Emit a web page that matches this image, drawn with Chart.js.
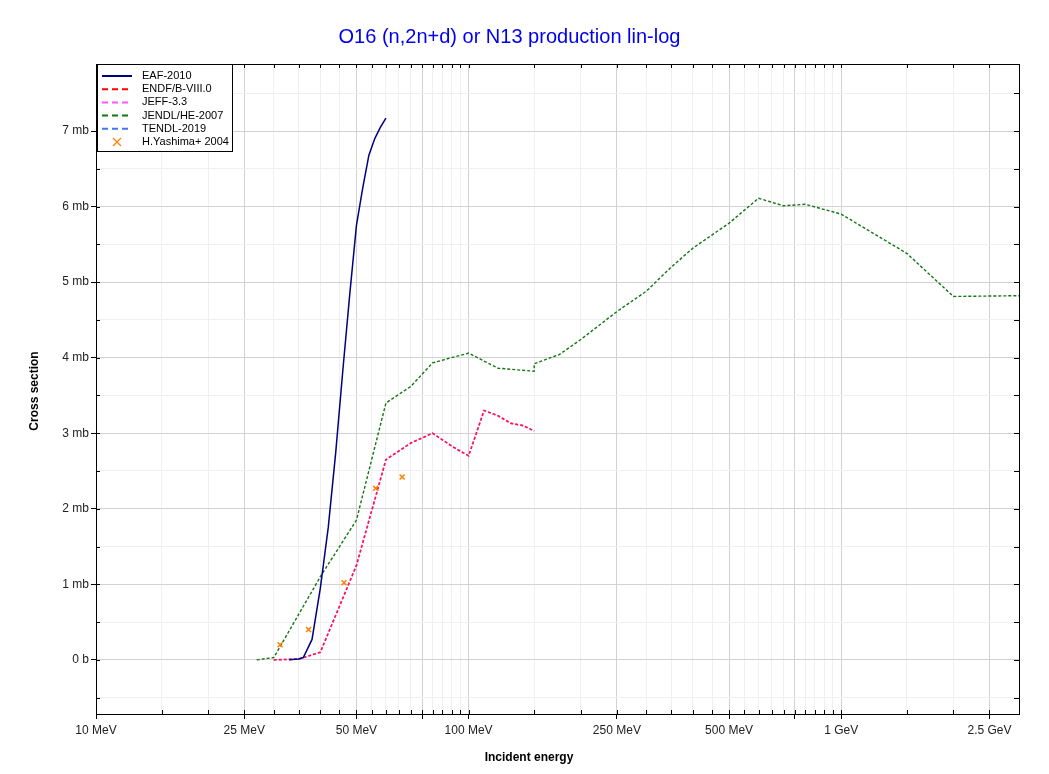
<!DOCTYPE html>
<html lang="en">
<head>
  <meta charset="UTF-8">
  <title>O16 (n,2n+d) or N13 production lin-log</title>
  <script src="https://cdn.jsdelivr.net/npm/chart.js"></script>
  <style>
    html, body { margin: 0; padding: 0; background: #fff; overflow: hidden; }
    canvas { display: block; }
  </style>
</head>
<body>
  <canvas id="chart" width="1049" height="774"></canvas>

  <script>
    // energies in MeV, cross sections in mb
    const eafE   = [33, 35, 36, 38, 40, 42, 44, 46, 48, 50, 52, 54, 56, 58, 60];
    const eafXs  = [0, 0.01, 0.03, 0.27, 0.95, 1.75, 2.75, 3.85, 4.85, 5.75, 6.25, 6.68, 6.9, 7.05, 7.17];

    const endfE  = [30, 35, 40, 50, 60, 70, 80, 90, 100, 110, 120, 130, 140, 150];
    const endfXs = [0, 0.01, 0.1, 1.25, 2.65, 2.87, 3.0, 2.83, 2.7, 3.3, 3.23, 3.13, 3.1, 3.03];

    const jeffE  = [30, 35, 40, 50, 60, 70, 80, 90, 100, 110, 120, 130, 140, 150];
    const jeffXs = [0, 0.01, 0.1, 1.25, 2.65, 2.87, 3.0, 2.83, 2.7, 3.3, 3.23, 3.13, 3.1, 3.03];

    const jendlE  = [27, 30, 40, 50, 60, 70, 80, 90, 100, 120, 150, 150, 175, 200, 250, 300, 350, 400, 500, 600, 700, 800, 1000, 1500, 2000, 3000];
    const jendlXs = [0, 0.03, 1.1, 1.85, 3.4, 3.62, 3.93, 4.0, 4.06, 3.86, 3.82, 3.92, 4.04, 4.24, 4.61, 4.88, 5.2, 5.45, 5.78, 6.11, 6.01, 6.03, 5.9, 5.38, 4.81, 4.82];

    const tendlE  = [];
    const tendlXs = [];

    const yashE  = [31.2, 37.2, 46.3, 56.3, 66.3];
    const yashXs = [0.2, 0.4, 1.02, 2.27, 2.42];

    // axis ticks
    const xTicks = [10, 15, 20, 25, 30, 35, 40, 45, 50, 55, 60, 65, 70, 75, 80, 85, 90, 95, 100,
                    150, 200, 250, 300, 350, 400, 450, 500, 550, 600, 650, 700, 750, 800, 850, 900, 950, 1000,
                    1500, 2000, 2500, 3000];
    const xMajor = [10, 25, 50, 75, 100, 250, 500, 750, 1000, 2500];
    const xLabelVals = [10, 25, 50, 100, 250, 500, 1000, 2500];
    const xLabels = ['10 MeV', '25 MeV', '50 MeV', '100 MeV', '250 MeV', '500 MeV', '1 GeV', '2.5 GeV'];

    const yTicks = [-0.5, 0, 0.5, 1, 1.5, 2, 2.5, 3, 3.5, 4, 4.5, 5, 5.5, 6, 6.5, 7, 7.5];
    const yLabelVals = [0, 1, 2, 3, 4, 5, 6, 7];
    const yLabels = ['0 b', '1 mb', '2 mb', '3 mb', '4 mb', '5 mb', '6 mb', '7 mb'];

    const FONT = '"Liberation Sans", Arial, sans-serif';
    const pts = (xs, ys) => xs.map((e, i) => ({ x: e, y: ys[i] }));

    // legend entries (drawn by hand, boxed like the original)
    const legendItems = [
      { label: 'EAF-2010',        color: '#000080', dash: [] },
      { label: 'ENDF/B-VIII.0',   color: '#ff0000', dash: [6, 4] },
      { label: 'JEFF-3.3',        color: '#ff55ff', dash: [6, 4] },
      { label: 'JENDL/HE-2007',   color: '#117711', dash: [6, 4] },
      { label: 'TENDL-2019',      color: '#4477ee', dash: [6, 4] },
      { label: 'H.Yashima+ 2004', color: '#ff8000', marker: true }
    ];

    const framePlugin = {
      id: 'frame',
      afterDraw(chart) {
        const { ctx, chartArea: a, scales: { x, y } } = chart;
        ctx.save();
        ctx.strokeStyle = '#000';
        ctx.lineWidth = 1;
        ctx.setLineDash([]);
        ctx.strokeRect(a.left + 0.5, a.top + 0.5, a.right - a.left, a.bottom - a.top);

        // inner ticks on all four sides
        ctx.beginPath();
        xTicks.forEach(v => {
          const px = Math.round(x.getPixelForValue(v)) + 0.5;
          ctx.moveTo(px, a.bottom); ctx.lineTo(px, a.bottom - 4);
          ctx.moveTo(px, a.top); ctx.lineTo(px, a.top + 4);
        });
        yTicks.forEach(v => {
          const py = Math.round(y.getPixelForValue(v)) + 0.5;
          ctx.moveTo(a.left, py); ctx.lineTo(a.left + 4, py);
          ctx.moveTo(a.right, py); ctx.lineTo(a.right - 5, py);
        });
        ctx.stroke();

        // legend box
        const lx = a.left + 1, ly = a.top, lw = 135, lh = 87;
        ctx.fillStyle = '#fff';
        ctx.fillRect(lx, ly, lw, lh);
        ctx.strokeRect(lx + 0.5, ly + 0.5, lw, lh);
        ctx.font = '11px ' + FONT;
        ctx.textBaseline = 'middle';
        ctx.textAlign = 'left';
        legendItems.forEach((it, i) => {
          const cy = ly + 12 + i * 13.2;
          ctx.strokeStyle = it.color;
          if (it.marker) {
            const cx = lx + 20, r = 4;
            ctx.lineWidth = 1.2;
            ctx.setLineDash([]);
            ctx.beginPath();
            ctx.moveTo(cx - r, cy - r); ctx.lineTo(cx + r, cy + r);
            ctx.moveTo(cx - r, cy + r); ctx.lineTo(cx + r, cy - r);
            ctx.stroke();
          } else {
            ctx.lineWidth = 2;
            ctx.setLineDash(it.dash);
            ctx.beginPath();
            ctx.moveTo(lx + 5, cy); ctx.lineTo(lx + 35, cy);
            ctx.stroke();
          }
          ctx.fillStyle = '#000';
          ctx.fillText(it.label, lx + 45, cy);
        });

        // axis titles
        ctx.fillStyle = '#000';
        ctx.font = 'bold 12px ' + FONT;
        ctx.textAlign = 'center';
        ctx.fillText('Incident energy', 529, 758);
        ctx.translate(35, 391);
        ctx.rotate(-Math.PI / 2);
        ctx.fillText('Cross section', 0, 0);
        ctx.restore();
      }
    };

    new Chart(document.getElementById('chart'), {
      type: 'line',
      data: {
        datasets: [
          {
            label: 'EAF-2010', data: pts(eafE, eafXs),
            borderColor: '#000080', borderWidth: 1.5, order: 1
          },
          {
            label: 'ENDF/B-VIII.0', data: pts(endfE, endfXs),
            borderColor: 'rgba(255,0,0,0.6)', borderWidth: 1.6, borderDash: [3, 2], order: 2
          },
          {
            label: 'JEFF-3.3', data: pts(jeffE, jeffXs),
            borderColor: '#ff33cc', borderWidth: 1.6, borderDash: [3, 2], order: 3
          },
          {
            label: 'JENDL/HE-2007', data: pts(jendlE, jendlXs),
            borderColor: '#117711', borderWidth: 1.4, borderDash: [3, 2], order: 4
          },
          {
            label: 'TENDL-2019', data: pts(tendlE, tendlXs),
            borderColor: '#4477ee', borderWidth: 1.4, borderDash: [3, 2], order: 5
          },
          {
            label: 'H.Yashima+ 2004', data: pts(yashE, yashXs),
            showLine: false, pointStyle: 'crossRot', pointRadius: 3.5,
            pointBorderColor: '#ff8000', pointBorderWidth: 1.5, borderColor: '#ff8000', order: 0
          }
        ].map(d => Object.assign({ pointRadius: 0, tension: 0, fill: false }, d))
      },
      options: {
        responsive: false,
        animation: false,
        devicePixelRatio: 1,
        layout: { padding: { left: 0, right: 30, top: 0, bottom: 0 } },
        plugins: {
          legend: { display: false },
          tooltip: { enabled: false },
          title: {
            display: true,
            text: 'O16 (n,2n+d) or N13 production lin-log',
            color: '#0000ee',
            font: { family: FONT, size: 20, weight: 'normal' },
            padding: { top: 25, bottom: 15 }
          }
        },
        scales: {
          x: {
            type: 'logarithmic',
            bounds: 'data',
            min: 10, max: 3000,
            afterBuildTicks: s => { s.ticks = xTicks.map(v => ({ value: v })); },
            afterFit: s => { s.height = 60; },
            border: { display: true, color: '#000', width: 1 },
            grid: {
              color: c => xMajor.includes(c.tick.value) ? '#d2d2d2' : '#efefef',
              tickColor: c => xMajor.includes(c.tick.value) ? '#000' : 'rgba(0,0,0,0)',
              tickLength: 5
            },
            ticks: {
              autoSkip: false, maxRotation: 0, padding: 4,
              color: '#222', font: { family: FONT, size: 12 },
              callback: v => { const i = xLabelVals.indexOf(v); return i >= 0 ? xLabels[i] : ''; }
            }
          },
          y: {
            type: 'linear',
            min: -0.717, max: 7.887,
            afterBuildTicks: s => { s.ticks = yTicks.map(v => ({ value: v })); },
            afterFit: s => { s.width = 96; },
            border: { display: true, color: '#000', width: 1 },
            grid: {
              color: c => Number.isInteger(c.tick.value) ? '#d2d2d2' : '#efefef',
              tickColor: c => Number.isInteger(c.tick.value) ? '#000' : 'rgba(0,0,0,0)',
              tickLength: 5
            },
            ticks: {
              autoSkip: false, padding: 2,
              color: '#222', font: { family: FONT, size: 12 },
              callback: v => { const i = yLabelVals.indexOf(v); return i >= 0 ? yLabels[i] : ''; }
            }
          }
        }
      },
      plugins: [framePlugin]
    });
  </script>
</body>
</html>
